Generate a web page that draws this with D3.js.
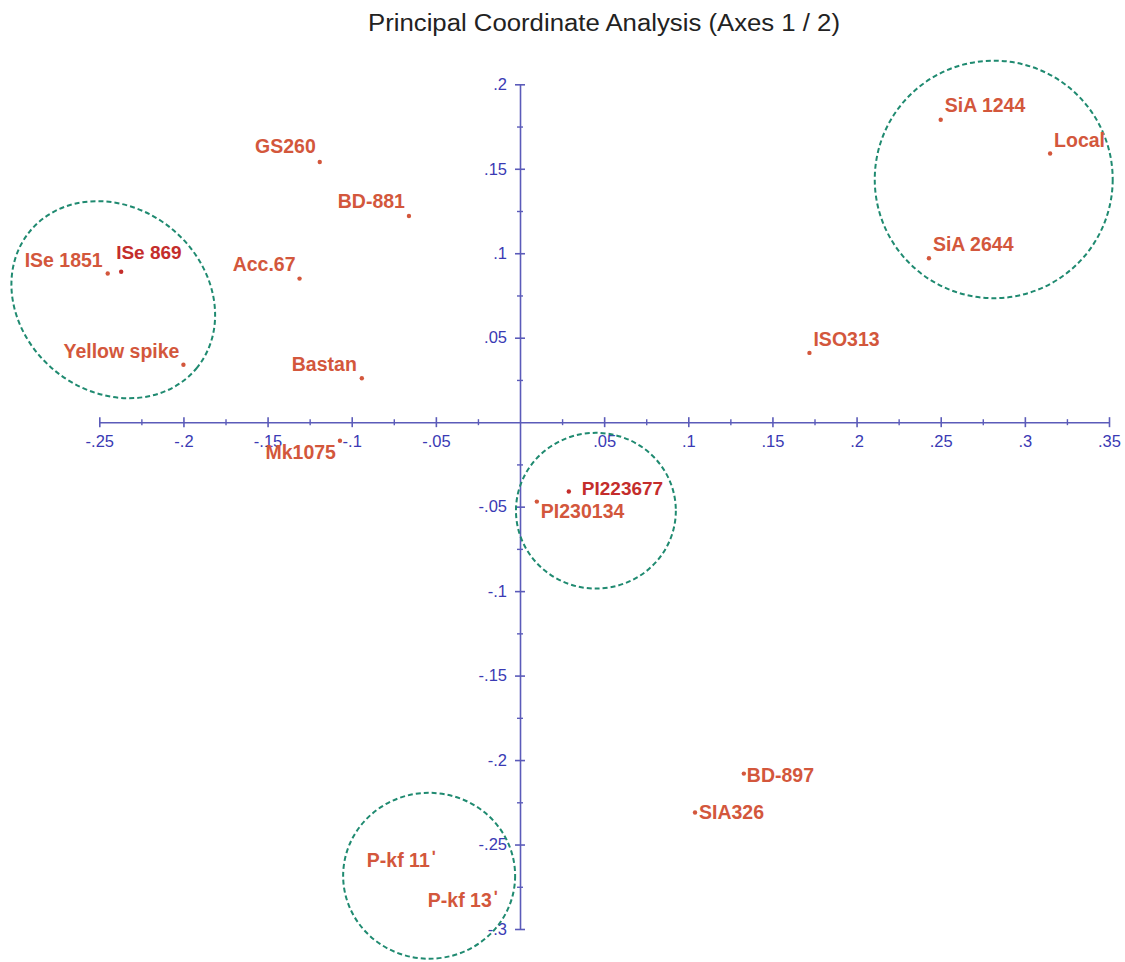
<!DOCTYPE html>
<html><head><meta charset="utf-8">
<script src="https://cdn.jsdelivr.net/npm/d3@7"></script>
<style>html,body{margin:0;padding:0;background:#fff;} svg{display:block;}</style>
</head><body>
<svg id="chart" width="1125" height="962"></svg>
<script>
// ---- data ----
const title = "Principal Coordinate Analysis (Axes 1 / 2)";
const names = ["GS260","BD-881","ISe 1851","ISe 869","Acc.67","Yellow spike","Bastan","Mk1075","SiA 1244","Local","SiA 2644","ISO313","PI223677","PI230134","BD-897","SIA326"];
const axis1 = [-0.119,-0.066,-0.245,-0.237,-0.131,-0.200,-0.094,-0.107,0.250,0.315,0.243,0.172,0.029,0.010,0.133,0.104];
const axis2 = [0.154,0.122,0.088,0.089,0.085,0.034,0.026,-0.011,0.179,0.159,0.097,0.041,-0.041,-0.047,-0.208,-0.231];
// labelled accessions without visible marker
const extraNames = ["P-kf 11","P-kf 13"];
const extraAxis1 = [-0.091,-0.0548];
const extraAxis2 = [-0.2632,-0.2868];
// tick values
const xTicks = [-0.25,-0.2,-0.15,-0.1,-0.05,0.05,0.1,0.15,0.2,0.25,0.3,0.35];
const yTicks = [0.2,0.15,0.1,0.05,-0.05,-0.1,-0.15,-0.2,-0.25,-0.3];
const xMinor = [-0.225,-0.175,-0.125,-0.075,-0.025,0.025,0.075,0.125,0.175,0.225,0.275,0.325];
const yMinor = [0.175,0.125,0.075,0.025,-0.025,-0.075,-0.125,-0.175,-0.225,-0.275];
// group ellipses (centre on axis1/axis2, radii in axis units, rotation in degrees)
const groupCx = [-0.2417,0.2815,0.0451,-0.054];
const groupCy = [0.0725,0.1437,-0.0524,-0.2685];
const groupRx = [0.0641,0.0707,0.0475,0.0511];
const groupRy = [0.0544,0.0703,0.0461,0.0491];
const groupRot = [39,0,0,0];

// ---- layout / style ----
const svg = d3.select("#chart");
const x = d3.scaleLinear().domain([-0.25,0.35]).range([99.3,1109]);
const y = d3.scaleLinear().domain([-0.3,0.2]).range([929,84.3]);
const axisColor = "#5b5bb9", tickText = "#3a3ab4";
const ptColor = "#d3573c", darkRed = "#c42d2b";
const FONT = "Liberation Sans, Arial, sans-serif";
const placement = {
  "GS260":["end",-4,-9], "BD-881":["end",-4,-8], "ISe 1851":["end",-5,-7], "ISe 869":["start",-5,-13],
  "Acc.67":["end",-4,-8], "Yellow spike":["end",-4,-7], "Bastan":["end",-5,-7], "Mk1075":["end",-4,18],
  "SiA 1244":["start",4,-8], "Local":["start",4,-7], "SiA 2644":["start",4,-7], "ISO313":["start",4,-7],
  "PI223677":["start",13,4], "PI230134":["start",4,16], "BD-897":["start",3,8], "SIA326":["start",4,7]
};
const darkOnes = new Set(["ISe 869","PI223677"]);
const fmt = v => String(+v.toFixed(3)).replace(/^(-?)0\./,"$1.");

svg.append("text").attr("x",604).attr("y",31).attr("text-anchor","middle")
  .attr("font-family",FONT).attr("font-size",23)
  .attr("textLength",472).attr("lengthAdjust","spacingAndGlyphs")
  .attr("fill","#222").text(title);

// x axis
const gx = svg.append("g").attr("transform",`translate(0,${y(0)})`)
  .call(d3.axisBottom(x).tickValues(xTicks).tickSizeOuter(0).tickSizeInner(5).tickPadding(0).tickFormat(fmt));
gx.select(".domain").attr("stroke",axisColor).attr("stroke-width",1.6);
gx.selectAll(".tick line").attr("stroke",axisColor).attr("stroke-width",1.6).attr("y1",-5).attr("y2",5);
gx.selectAll(".tick text").attr("fill",tickText).attr("font-size",16.5).attr("font-family",FONT).attr("dy","1.2em");
const gxm = svg.append("g").attr("transform",`translate(0,${y(0)})`)
  .call(d3.axisBottom(x).tickValues(xMinor).tickSizeOuter(0).tickFormat(""));
gxm.select(".domain").remove();
gxm.selectAll(".tick line").attr("stroke",axisColor).attr("stroke-width",1.4).attr("y1",-3).attr("y2",3);

// y axis
const gy = svg.append("g").attr("transform",`translate(${x(0)},0)`)
  .call(d3.axisLeft(y).tickValues(yTicks).tickSizeOuter(0).tickSizeInner(5).tickPadding(8).tickFormat(fmt));
gy.select(".domain").attr("stroke",axisColor).attr("stroke-width",1.6);
gy.selectAll(".tick line").attr("stroke",axisColor).attr("stroke-width",1.6).attr("x1",-5).attr("x2",5);
gy.selectAll(".tick text").attr("fill",tickText).attr("font-size",16.5).attr("font-family",FONT);
const gym = svg.append("g").attr("transform",`translate(${x(0)},0)`)
  .call(d3.axisLeft(y).tickValues(yMinor).tickSizeOuter(0).tickFormat(""));
gym.select(".domain").remove();
gym.selectAll(".tick line").attr("stroke",axisColor).attr("stroke-width",1.4).attr("x1",-3).attr("x2",3);

// group ellipses
const kx = Math.abs(x(1)-x(0)), ky = Math.abs(y(1)-y(0));
svg.append("g").selectAll("ellipse").data(d3.range(groupCx.length)).join("ellipse")
  .attr("transform",i=>`translate(${x(groupCx[i])},${y(groupCy[i])}) rotate(${groupRot[i]})`)
  .attr("rx",i=>groupRx[i]*kx).attr("ry",i=>groupRy[i]*ky)
  .attr("fill","none").attr("stroke","#1f8a70").attr("stroke-width",2).attr("stroke-dasharray","5,3");

// points
const pts = names.map((n,i)=>({n,x:axis1[i],y:axis2[i]}));
svg.append("g").selectAll("circle").data(pts).join("circle")
  .attr("cx",d=>x(d.x)).attr("cy",d=>y(d.y)).attr("r",2.2)
  .attr("fill",d=>darkOnes.has(d.n)?darkRed:ptColor);
svg.append("g").selectAll("text").data(pts).join("text")
  .attr("x",d=>x(d.x)+placement[d.n][1]).attr("y",d=>y(d.y)+placement[d.n][2])
  .attr("text-anchor",d=>placement[d.n][0])
  .attr("font-family",FONT).attr("font-weight","bold")
  .attr("font-size",d=>darkOnes.has(d.n)?19:19.5)
  .attr("fill",d=>darkOnes.has(d.n)?darkRed:ptColor).text(d=>d.n);

const ex = extraNames.map((n,i)=>({n,x:extraAxis1[i],y:extraAxis2[i]}));
const et = svg.append("g").selectAll("text").data(ex).join("text")
  .attr("x",d=>x(d.x)).attr("y",d=>y(d.y))
  .attr("font-family",FONT).attr("font-weight","bold")
  .attr("font-size",19.5).attr("fill",ptColor);
et.append("tspan").text(d=>d.n);
et.append("tspan").attr("dx",2).attr("dy",-5).attr("font-size",17).text("ʹ");
</script>
</body></html>
